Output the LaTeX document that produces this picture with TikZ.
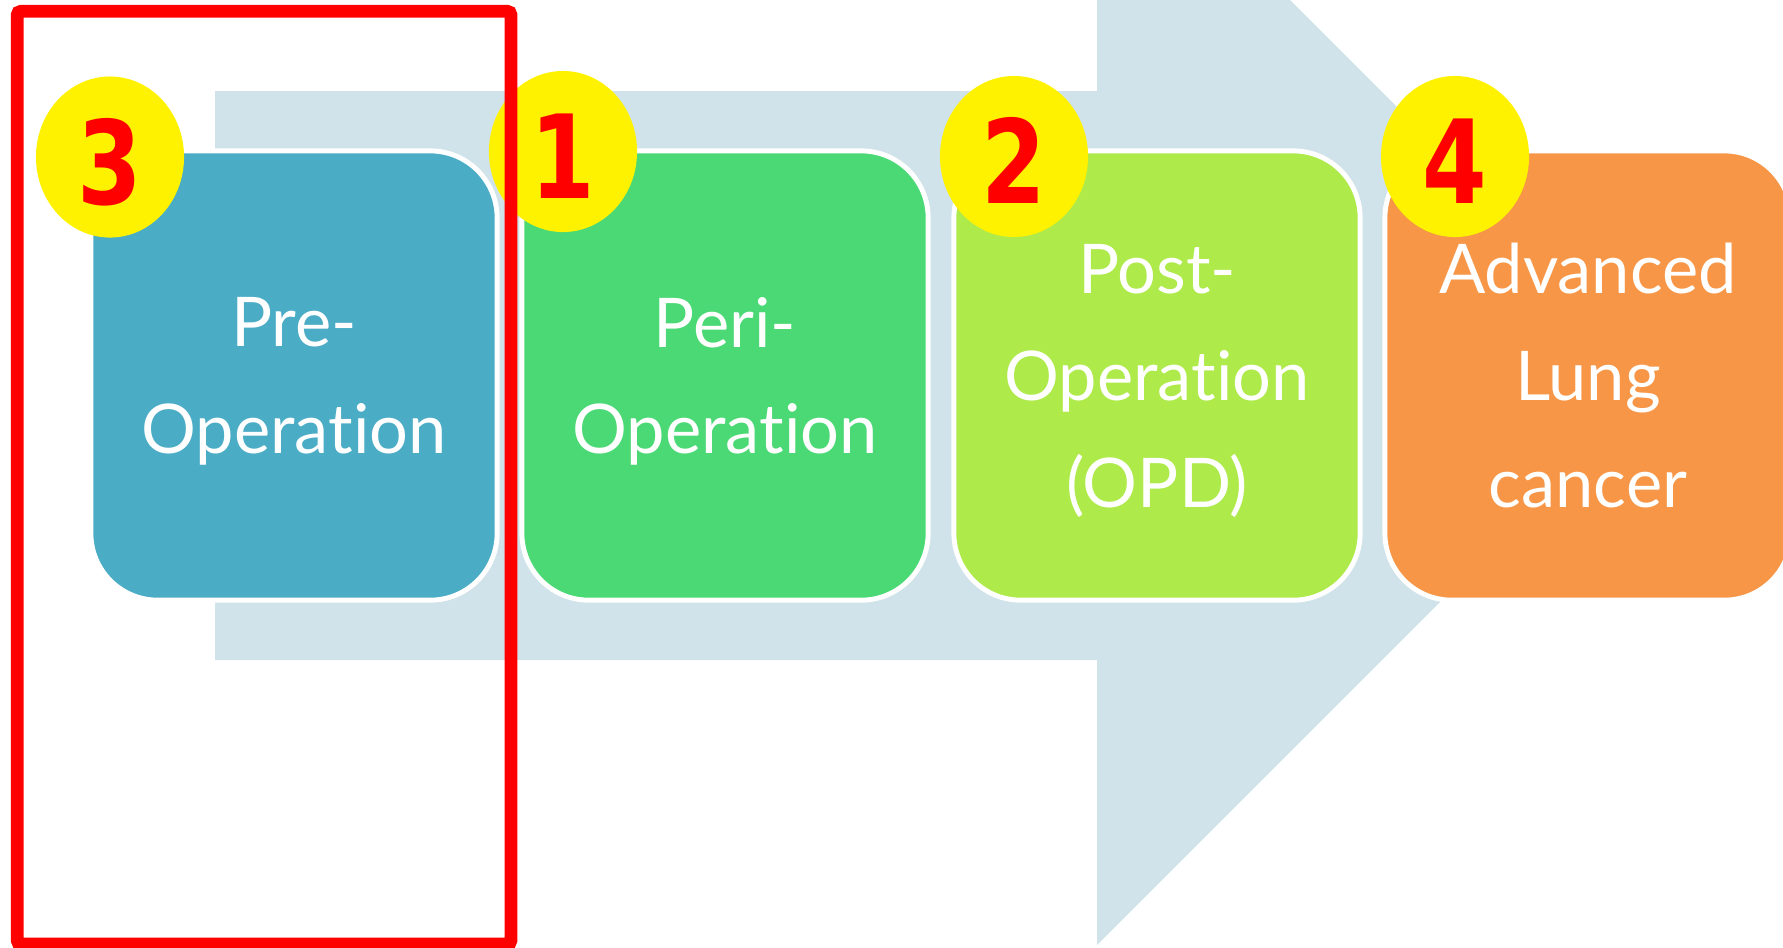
\documentclass[tikz,border=0pt]{standalone}
\usepackage{fontspec}
\setmainfont{Lato}[Ligatures={NoCommon}]
\newfontfamily\badgefont[FakeStretch=0.8]{DejaVu Sans}
\usetikzlibrary{shapes.geometric}
\definecolor{arrowblue}{RGB}{208,227,234}
\definecolor{preblue}{RGB}{75,172,198}
\definecolor{perigreen}{RGB}{74,217,116}
\definecolor{postlime}{RGB}{174,234,74}
\definecolor{advorange}{RGB}{247,150,70}
\tikzset{
	stage/.style={rectangle, rounded corners=19pt, draw=white, line width=1.4pt,
		minimum width=4.06cm, minimum height=4.49cm, inner sep=0pt, align=center,
		text depth=0pt, text=white, font=\fontsize{19.5}{30.4}\selectfont},
	badge/.style={ellipse, fill=yellow, minimum width=1.48cm, minimum height=1.61cm,
		inner sep=0pt, text height=27pt, text depth=0pt, text=red,
		font=\badgefont\bfseries\fontsize{33}{33}\selectfont}
}
\begin{document}
\begin{tikzpicture}[x=0.01cm, y=-0.01cm]
	\useasboundingbox (0,0) rectangle (1783,947);
	\clip (0,0) rectangle (1783,947);

	\fill[arrowblue] (215,91) -- (1097,91) -- (1097,-193) -- (1666,376)
		-- (1097,945) -- (1097,660) -- (215,660) -- cycle;

	\node[stage, fill=preblue] (pre) at (294,375.5) {Pre-\\Operation};
	\node[stage, fill=perigreen] (peri) at (725,375.5) {Peri-\\Operation};
	\node[stage, fill=postlime] (post) at (1157,375.5) {Post-\\Operation\\(OPD)};
	\node[stage, fill=advorange] (adv) at (1588,375.5) {Advanced\\Lung\\cancer};

	\foreach \n/\x/\y in {3/110/157, 1/563/151.5, 2/1014/156.5, 4/1455/156.5}{
		\node[badge] (badge\n) at (\x,\y) {\n};
	}

	\draw[red, line width=3.6pt, rounded corners=1pt] (17.2,11.3) rectangle (511,944);
\end{tikzpicture}
\end{document}
